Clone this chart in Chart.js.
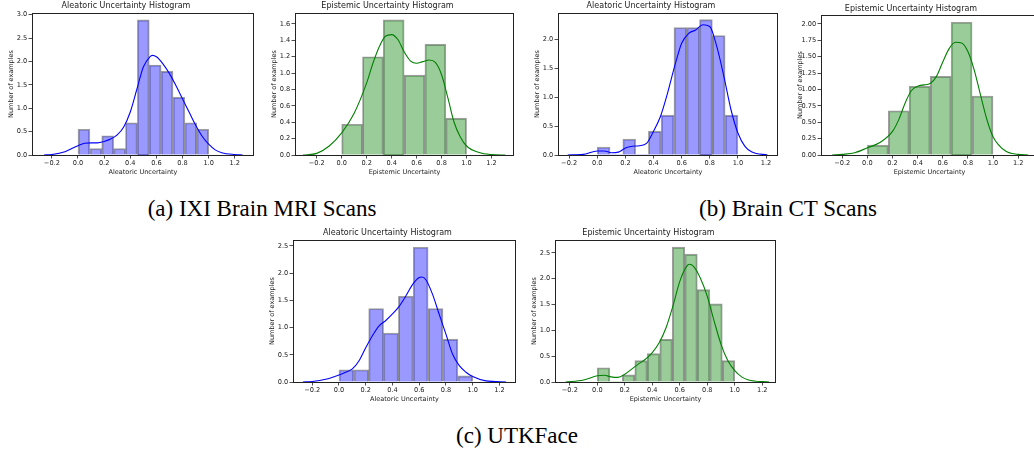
<!DOCTYPE html>
<html><head><meta charset="utf-8">
<script src="https://cdn.jsdelivr.net/npm/chart.js@4.4.1/dist/chart.umd.min.js"></script>
<style>
html,body{margin:0;padding:0;background:#fff;overflow:hidden;width:1034px;height:452px;position:relative;}
.box{position:absolute;}
.box canvas{display:block;}
.cap{position:absolute;font-family:"Liberation Serif","Times New Roman",serif;font-size:23px;color:#000;transform:translateX(-50%);white-space:nowrap;line-height:1;}
</style></head><body>
<div class="cap" style="left:262px;top:197px;">(a) IXI Brain MRI Scans</div>
<div class="cap" style="left:788px;top:197px;">(b) Brain CT Scans</div>
<div class="cap" style="left:517px;top:424px;">(c) UTKFace</div>
<script>
// ---- tick labels ----
const xTickLabels = ["−0.2","0.0","0.2","0.4","0.6","0.8","1.0","1.2"];
const yTicksP1 = ["0.0","0.5","1.0","1.5","2.0","2.5","3.0"];
const yTicksP2 = ["0.0","0.2","0.4","0.6","0.8","1.0","1.2","1.4","1.6"];
const yTicksP3 = ["0.0","0.5","1.0","1.5","2.0"];
const yTicksP4 = ["0.00","0.25","0.50","0.75","1.00","1.25","1.50","1.75","2.00"];
const yTicksP5 = ["0.0","0.5","1.0","1.5","2.0","2.5"];
const yTicksP6 = ["0.0","0.5","1.0","1.5","2.0","2.5"];

// ---- histogram heights (equal-width bins over [0,1]) ----
const histP1 = [0.55,0.1375,0.4125,0.1375,0.6875,2.8875,1.925,1.7875,1.2375,0.6875,0.55];
const histP2 = [0.375,1.2,1.65,0.975,1.35,0.45];
const histP3 = [0.1375,0,0.275,0,0.4125,0.6875,2.2,2.2,2.3375,2.0625,0.6875];
const histP4 = [0.15,0.675,1.05,1.2,2.025,0.9];
const histP5 = [0.225,0.225,1.35,0.9,1.575,2.475,1.35,0.7875,0.1125];
const histP6 = [0.275,0,0.1375,0.4125,0.55,0.825,2.6125,2.475,1.7875,1.5125,0.4125];

// ---- KDE curves ----
const kdeP1X = [-0.26,-0.2,-0.1,0.0,0.05,0.1,0.15,0.2,0.25,0.3,0.35,0.4,0.45,0.5,0.55,0.57,0.6,0.65,0.7,0.75,0.8,0.85,0.9,0.95,1.0,1.05,1.1,1.2,1.26];
const kdeP1Y = [0,0.01,0.07,0.2,0.25,0.26,0.26,0.29,0.34,0.43,0.6,0.92,1.4,1.88,2.1,2.13,2.1,1.95,1.74,1.48,1.2,0.92,0.64,0.4,0.23,0.11,0.05,0.01,0];
const kdeP2X = [-0.31,-0.2,-0.1,0.0,0.1,0.2,0.25,0.3,0.35,0.4,0.45,0.5,0.55,0.6,0.65,0.7,0.75,0.8,0.85,0.9,0.95,1.0,1.1,1.2,1.31];
const kdeP2Y = [0,0.02,0.11,0.27,0.51,0.88,1.12,1.32,1.45,1.47,1.41,1.26,1.15,1.12,1.14,1.16,1.13,0.98,0.7,0.4,0.22,0.11,0.03,0.005,0];
const kdeP3X = [-0.21,-0.1,0.0,0.05,0.1,0.15,0.2,0.25,0.3,0.35,0.4,0.45,0.5,0.55,0.6,0.65,0.7,0.75,0.8,0.85,0.9,0.95,1.0,1.05,1.1,1.21];
const kdeP3Y = [0,0.01,0.07,0.07,0.04,0.05,0.12,0.15,0.16,0.2,0.41,0.67,1.07,1.53,1.93,2.1,2.16,2.25,2.22,1.87,1.36,0.79,0.38,0.15,0.05,0];
const kdeP4X = [-0.28,-0.2,-0.1,0.0,0.1,0.2,0.25,0.3,0.35,0.4,0.45,0.5,0.55,0.6,0.65,0.7,0.75,0.8,0.85,0.9,0.95,1.0,1.1,1.2,1.28];
const kdeP4Y = [0,0.01,0.035,0.11,0.19,0.36,0.54,0.79,0.98,1.05,1.07,1.09,1.2,1.42,1.62,1.72,1.71,1.58,1.3,0.92,0.55,0.28,0.06,0.01,0];
const kdeP5X = [-0.27,-0.2,-0.1,0.0,0.05,0.1,0.15,0.2,0.25,0.3,0.35,0.4,0.45,0.5,0.55,0.6,0.62,0.65,0.7,0.75,0.8,0.85,0.9,0.95,1.0,1.1,1.25];
const kdeP5Y = [0,0.01,0.05,0.13,0.18,0.24,0.39,0.63,0.85,1.03,1.13,1.25,1.39,1.58,1.79,1.92,1.93,1.88,1.61,1.24,0.88,0.51,0.3,0.18,0.1,0.02,0];
const kdeP6X = [-0.23,-0.1,0.0,0.05,0.1,0.15,0.2,0.25,0.3,0.35,0.4,0.45,0.5,0.55,0.6,0.65,0.67,0.7,0.75,0.8,0.85,0.9,0.95,1.0,1.05,1.1,1.25];
const kdeP6Y = [0,0.04,0.12,0.13,0.1,0.09,0.15,0.25,0.35,0.44,0.57,0.76,1.05,1.47,1.95,2.24,2.28,2.24,2.01,1.66,1.18,0.73,0.41,0.22,0.1,0.04,0];

const titleA = "Aleatoric Uncertainty Histogram", titleE = "Epistemic Uncertainty Histogram";
const labelA = "Aleatoric Uncertainty", labelE = "Epistemic Uncertainty";
const yLabel = "Number of examples";

const BLUE = {line:'#0000ff', fill:'rgba(0,0,255,0.4)'};
const GREEN = {line:'#008000', fill:'rgba(0,128,0,0.4)'};

const panels = [
  {hist:histP1,kx:kdeP1X,ky:kdeP1Y,yt:yTicksP1,title:titleA,xl:labelA,c:BLUE, L:32,R:254,T:13,B:155,xmin:-0.352,xmax:1.347,ymax:3.036,yw:34,tb:3.5},
  {hist:histP2,kx:kdeP2X,ky:kdeP2Y,yt:yTicksP2,title:titleE,xl:labelE,c:GREEN,L:295,R:514,T:13,B:155,xmin:-0.374,xmax:1.38,ymax:1.734,yw:34,tb:3.5},
  {hist:histP3,kx:kdeP3X,ky:kdeP3Y,yt:yTicksP3,title:titleA,xl:labelA,c:BLUE, L:558,R:778,T:13,B:155,xmin:-0.279,xmax:1.285,ymax:2.452,yw:34,tb:3.5},
  {hist:histP4,kx:kdeP4X,ky:kdeP4Y,yt:yTicksP4,title:titleE,xl:labelE,c:GREEN,L:821,R:1038,T:15,B:155,xmin:-0.369,xmax:1.358,ymax:2.137,yw:37,tb:2.2},
  {hist:histP5,kx:kdeP5X,ky:kdeP5Y,yt:yTicksP5,title:titleA,xl:labelA,c:BLUE, L:293,R:516,T:240,B:382,xmin:-0.344,xmax:1.324,ymax:2.61,yw:34,tb:3.0},
  {hist:histP6,kx:kdeP6X,ky:kdeP6Y,yt:yTicksP6,title:titleE,xl:labelE,c:GREEN,L:555,R:776,T:240,B:382,xmin:-0.308,xmax:1.30,ymax:2.75,yw:34,tb:3.0}
];

const frame = {
  id:'frame',
  afterDatasetsDraw(chart){
    const {ctx, chartArea:a} = chart;
    ctx.save();
    ctx.strokeStyle = '#222'; ctx.lineWidth = 1;
    ctx.strokeRect(Math.round(a.left)+0.5, Math.round(a.top)+0.5, Math.round(a.right-a.left)-1, Math.round(a.bottom-a.top));
    ctx.restore();
  }
};

const FONT = 'DejaVu Sans';
const xTickVals = xTickLabels.map(s => parseFloat(s.replace('−','-')));

function makeChart(p){
  const yw = p.yw, th = 13, xh = 24;
  const pw = p.R - p.L, ph = p.B - p.T;
  const cw = pw + 2*yw, ch = ph + th + xh;
  const div = document.createElement('div');
  div.className = 'box';
  div.style.left = (p.L - yw) + 'px';
  div.style.top = (p.T - th) + 'px';
  div.style.width = cw + 'px';
  div.style.height = ch + 'px';
  const cv = document.createElement('canvas');
  div.appendChild(cv);
  document.body.appendChild(div);
  const n = p.hist.length;
  const yVals = p.yt.map(parseFloat);
  new Chart(cv, {
    type:'bar',
    data:{ datasets:[
      { type:'line', data:p.kx.map((x,i)=>({x:x, y:p.ky[i]})), borderColor:p.c.line, borderWidth:1.1,
        pointRadius:0, fill:false, cubicInterpolationMode:'monotone', tension:0.4 },
      { type:'bar', data:p.hist.map((v,i)=>({x:(i+0.5)/n, y:v})), backgroundColor:p.c.fill,
        borderColor:'rgba(0,0,0,0.38)', borderWidth:(ctx)=> (ctx.raw && ctx.raw.y>0) ? 1.2 : 0,
        barPercentage:1, categoryPercentage:1 }
    ]},
    options:{
      responsive:true, maintainAspectRatio:false, animation:false, devicePixelRatio:1,
      layout:{padding:{left:0, right:yw, top:0, bottom:0}},
      plugins:{
        legend:{display:false}, tooltip:{enabled:false},
        title:{display:true, text:p.title, color:'#1a1a1a', font:{family:FONT, size:8, weight:'normal', lineHeight:1}, padding:{top:th-8-p.tb, bottom:p.tb}}
      },
      scales:{
        x:{ type:'linear', min:p.xmin, max:p.xmax, offset:false,
            grid:{offset:false, drawOnChartArea:false, drawTicks:true, tickLength:3.5, color:'#222', lineWidth:0.8},
            border:{display:false},
            afterBuildTicks:(s)=>{ s.ticks = xTickVals.map(v=>({value:v})); },
            ticks:{ autoSkip:false, maxRotation:0, padding:1.0, color:'#1a1a1a', font:{family:FONT, size:6.6},
                    callback:(v,i)=> xTickLabels[i] },
            title:{display:true, text:p.xl, color:'#1a1a1a', font:{family:FONT, size:6.5}, padding:{top:0, bottom:3}},
            afterFit:(s)=>{ s.height = xh; } },
        y:{ type:'linear', min:0, max:p.ymax,
            grid:{drawOnChartArea:false, drawTicks:true, tickLength:3.5, color:'#222', lineWidth:0.8},
            border:{display:false},
            afterBuildTicks:(s)=>{ s.ticks = yVals.map(v=>({value:v})); },
            ticks:{ autoSkip:false, padding:1.3, color:'#1a1a1a', font:{family:FONT, size:6.6},
                    callback:(v,i)=> p.yt[i] },
            title:{display:true, text:yLabel, color:'#1a1a1a', font:{family:FONT, size:6.5}, padding:{top:yw-21-3.9, bottom:0}},
            afterFit:(s)=>{ s.width = yw; } }
      }
    },
    plugins:[frame]
  });
}
panels.forEach(makeChart);
</script>
</body></html>
